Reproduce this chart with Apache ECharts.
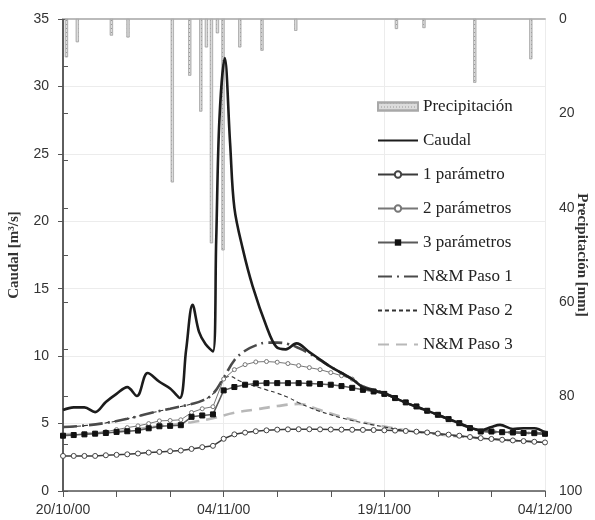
<!DOCTYPE html>
<html><head><meta charset="utf-8">
<script src="https://cdn.jsdelivr.net/npm/echarts@6/dist/echarts.min.js"></script>
<style>html,body{margin:0;padding:0;background:#fff}#c{width:595px;height:520px}</style>
</head><body><div id="c"></div>
<script>
// x positions are days counted from 20/10/00
const dateLabels = {0:'20/10/00', 15:'04/11/00', 30:'19/11/00', 45:'04/12/00'};

const precipDays = [0.32, 1.34, 4.52, 6.07, 10.21, 11.83, 12.86, 13.39, 13.86, 14.42, 14.94, 16.5, 18.58, 21.73, 31.13, 33.7, 38.44, 43.67];
const precipMm   = [8.1, 4.9, 3.5, 3.9, 34.6, 12.0, 19.6, 6.0, 47.5, 3.0, 49.0, 6.0, 6.7, 2.5, 2.1, 1.9, 13.5, 8.5];

const caudalDays = [0, 1, 2, 3, 4, 5, 6, 6.9, 7.9, 9, 10, 10.9, 11.5, 12.1, 12.7, 13.3, 14, 14.3, 14.6, 15.1, 15.6, 16, 16.8, 17.7, 19, 19.9, 20.8, 21.8, 23, 24, 25, 26, 27, 28, 29, 30, 31, 32, 33, 34, 35, 36, 37, 38, 39, 40, 40.8, 42, 43, 44, 45];
const caudalVals = [6.0, 6.2, 6.2, 5.85, 6.6, 7.2, 7.7, 7.05, 8.75, 8.1, 7.6, 6.9, 10.5, 13.8, 11.8, 10.9, 10.35, 18.5, 27.5, 32.1, 25.8, 21.0, 17.9, 15.2, 12.2, 10.7, 10.5, 10.95, 10.3, 9.75, 9.2, 8.75, 8.3, 7.7, 7.45, 7.25, 6.9, 6.55, 6.25, 5.95, 5.65, 5.33, 5.03, 4.7, 4.5, 4.75, 4.9, 4.6, 4.65, 4.65, 4.35];

const paramDays = [0,1,2,3,4,5,6,7,8,9,10,11,12,13,14,15,16,17,18,19,20,21,22,23,24,25,26,27,28,29,30,31,32,33,34,35,36,37,38,39,40,41,42,43,44,45];
const param1 = [2.6, 2.6, 2.6, 2.6, 2.65, 2.68, 2.72, 2.78, 2.85, 2.9, 2.95, 3.0, 3.12, 3.25, 3.35, 3.87, 4.2, 4.33, 4.43, 4.5, 4.55, 4.57, 4.58, 4.58, 4.57, 4.56, 4.55, 4.54, 4.53, 4.52, 4.5, 4.48, 4.45, 4.4, 4.34, 4.26, 4.18, 4.1, 4.0, 3.92, 3.86, 3.8, 3.75, 3.7, 3.65, 3.6];
const param2 = [4.15, 4.18, 4.22, 4.28, 4.4, 4.55, 4.7, 4.83, 5.0, 5.2, 5.23, 5.28, 5.82, 6.1, 6.25, 8.3, 9.0, 9.37, 9.57, 9.6, 9.55, 9.45, 9.3, 9.15, 9.0, 8.78, 8.55, 8.3, 7.68, 7.42, 7.22, 6.9, 6.57, 6.27, 5.95, 5.65, 5.33, 5.03, 4.7, 4.45, 4.42, 4.38, 4.36, 4.34, 4.33, 4.3];
const param3 = [4.1, 4.15, 4.2, 4.25, 4.3, 4.38, 4.43, 4.48, 4.65, 4.8, 4.83, 4.88, 5.5, 5.6, 5.68, 7.46, 7.71, 7.88, 7.98, 8.0, 8.0, 8.0, 8.0, 7.97, 7.93, 7.88, 7.78, 7.65, 7.5, 7.38, 7.2, 6.89, 6.57, 6.27, 5.95, 5.65, 5.33, 5.03, 4.66, 4.41, 4.41, 4.36, 4.34, 4.3, 4.29, 4.24];

const nm1Days = [0, 2, 4, 6, 8, 10, 12, 13, 14, 15, 16, 17, 18, 19, 20, 21, 22, 23, 24, 25, 26, 27, 28, 30, 32, 34, 36, 38, 40, 42, 45];
const nm1Vals = [4.75, 4.85, 5.05, 5.35, 5.75, 6.1, 6.45, 6.7, 7.2, 8.4, 9.7, 10.4, 10.8, 11.0, 11.0, 10.9, 10.6, 10.2, 9.7, 9.2, 8.75, 8.3, 7.75, 7.25, 6.55, 5.95, 5.33, 4.7, 4.4, 4.35, 4.25];
const nm2Days = [0, 2, 4, 6, 8, 10, 12, 13, 14, 15, 15.6, 16.5, 19, 20, 21, 22, 23, 24, 26, 28, 30, 32, 34, 36, 38, 40, 42, 45];
const nm2Vals = [4.7, 4.85, 5.05, 5.35, 5.75, 6.1, 6.45, 6.7, 7.2, 8.3, 8.5, 8.15, 7.5, 7.25, 6.95, 6.55, 6.2, 5.9, 5.42, 5.05, 4.75, 4.48, 4.28, 4.12, 3.98, 3.85, 3.74, 3.6];
const nm3Days = [0, 3, 6, 9, 12, 14, 16, 18, 20, 22, 24, 26, 28, 30, 32, 34, 36, 38, 40, 42, 45];
const nm3Vals = [4.2, 4.3, 4.5, 4.8, 5.1, 5.4, 5.8, 6.05, 6.3, 6.45, 6.0, 5.5, 5.1, 4.78, 4.5, 4.3, 4.12, 3.98, 3.85, 3.74, 3.6];

const serif = "'Liberation Serif', 'DejaVu Serif', serif";
const sans = "'Liberation Sans', Arial, sans-serif";
const pairs = (xs, ys) => xs.map((x, i) => [x, ys[i]]);
const noSym = {color: 'rgba(0,0,0,0)', borderWidth: 0, opacity: 0};

const chart = echarts.init(document.getElementById('c'), null, {renderer: 'canvas'});
chart.setOption({
  animation: false,
  backgroundColor: '#fff',
  grid: {left: 63, right: 50, top: 19, bottom: 29, containLabel: false, outerBoundsMode: 'none'},
  legend: {
    orient: 'vertical', left: 372, top: 93, itemWidth: 40, itemHeight: 8, itemGap: 17,
    textStyle: {fontFamily: serif, fontSize: 17, color: '#222'}, itemTextGap: 2,
    data: [
      {name: 'Precipitación', icon: 'rect'},
      {name: 'Caudal', itemStyle: noSym},
      '1 parámetro', '2 parámetros', '3 parámetros',
      {name: 'N&M Paso 1', itemStyle: noSym},
      {name: 'N&M Paso 2', itemStyle: noSym},
      {name: 'N&M Paso 3', itemStyle: noSym}
    ]
  },
  xAxis: [
    {type: 'value', position: 'bottom', min: 0, max: 45, interval: 5,
     axisLine: {lineStyle: {color: '#555', width: 1.5}},
     axisTick: {show: true, length: 6, lineStyle: {color: '#555'}},
     axisLabel: {formatter: v => dateLabels[v] || '', margin: 12, fontFamily: sans, fontSize: 14, color: '#333', showMinLabel: true, showMaxLabel: true},
     splitLine: {show: false}},
    {type: 'value', position: 'top', min: 0, max: 45, interval: 15,
     axisLine: {show: true, lineStyle: {color: '#bbb', width: 2}},
     axisTick: {show: false}, axisLabel: {show: false},
     splitLine: {show: true, lineStyle: {color: '#ececec'}}}
  ],
  yAxis: [
    {type: 'value', position: 'left', min: 0, max: 35, interval: 5,
     name: 'Caudal [m³/s]', nameLocation: 'middle', nameGap: 41, nameRotate: 90, nameMoveOverlap: false,
     nameTextStyle: {fontFamily: serif, fontWeight: 'bold', fontSize: 15, color: '#333'},
     axisLine: {show: true, lineStyle: {color: '#555', width: 1.5}},
     axisTick: {show: true, length: 5, lineStyle: {color: '#555'}},
     axisLabel: {margin: 14, fontFamily: sans, fontSize: 14, color: '#333'},
     splitLine: {show: true, lineStyle: {color: '#ececec'}}},
    {type: 'value', position: 'right', min: 0, max: 100, interval: 10, inverse: true,
     name: 'Precipitación [mm]', nameLocation: 'middle', nameGap: 29, nameRotate: -90, nameMoveOverlap: false,
     nameTextStyle: {fontFamily: serif, fontWeight: 'bold', fontSize: 15, color: '#333'},
     axisLine: {show: true, lineStyle: {color: '#555', width: 1.5}},
     axisTick: {show: true, length: 5, lineStyle: {color: '#555'}},
     axisLabel: {margin: 14, fontFamily: sans, fontSize: 14, color: '#333', formatter: v => (v % 20 === 0 ? String(v) : '')},
     splitLine: {show: false}}
  ],
  series: [
    {name: 'Precipitación', type: 'bar', xAxisIndex: 0, yAxisIndex: 1, barWidth: 3,
     data: pairs(precipDays, precipMm), z: 1,
     itemStyle: {color: '#dcdcdc', borderColor: '#a8a8a8', borderWidth: 0.6,
       decal: {symbol: 'rect', symbolSize: 1, dashArrayX: [1, 2], dashArrayY: [1, 3], color: '#9a9a9a'}}},
    {name: 'N&M Paso 3', type: 'line', data: pairs(nm3Days, nm3Vals), smooth: 0.4, symbol: 'none', z: 2,
     lineStyle: {color: '#b8b8b8', width: 2.6, type: [11, 7]}, itemStyle: {color: '#b8b8b8'}},
    {name: 'N&M Paso 2', type: 'line', data: pairs(nm2Days, nm2Vals), smooth: 0.4, symbol: 'none', z: 3,
     lineStyle: {color: '#333', width: 1.1, type: [4, 3]}, itemStyle: {color: '#333'}},
    {name: 'N&M Paso 1', type: 'line', data: pairs(nm1Days, nm1Vals), smooth: 0.4, symbol: 'none', z: 3,
     lineStyle: {color: '#4a4a4a', width: 2.6, type: [14, 5, 2, 5]}, itemStyle: {color: '#4a4a4a'}},
    {name: '1 parámetro', type: 'line', data: pairs(paramDays, param1), symbol: 'circle', symbolSize: 5, z: 4,
     lineStyle: {color: '#3a3a3a', width: 1.5}, itemStyle: {color: '#fff', borderColor: '#444', borderWidth: 1}},
    {name: '2 parámetros', type: 'line', data: pairs(paramDays, param2), symbol: 'circle', symbolSize: 4, z: 4,
     lineStyle: {color: '#777', width: 1}, itemStyle: {color: '#fff', borderColor: '#777', borderWidth: 1}},
    {name: '3 parámetros', type: 'line', data: pairs(paramDays, param3), symbol: 'rect', symbolSize: 5, z: 4,
     lineStyle: {color: '#5a5a5a', width: 1.5}, itemStyle: {color: '#111', borderColor: '#111'}},
    {name: 'Caudal', type: 'line', data: pairs(caudalDays, caudalVals), smooth: 0.35, symbol: 'none', z: 5,
     lineStyle: {color: '#1c1c1c', width: 2.6}, itemStyle: {color: '#1c1c1c'}}
  ]
});
</script>
</body></html>
